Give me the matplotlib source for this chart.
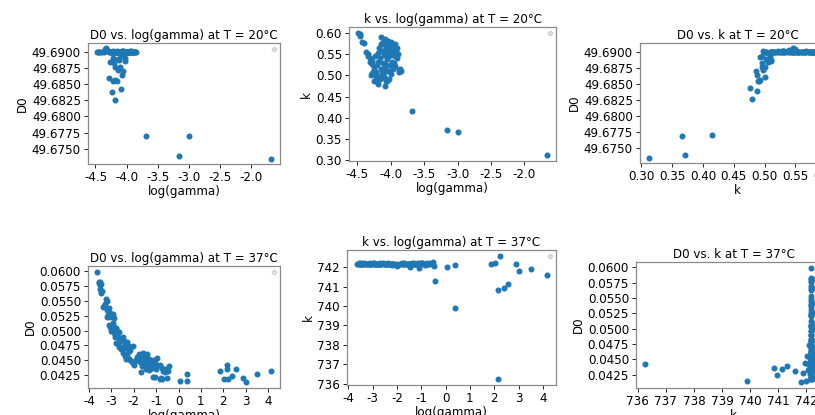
import warnings
import matplotlib
matplotlib.use("Agg")
import matplotlib.pyplot as plt
from matplotlib.ticker import MultipleLocator, FormatStrFormatter

warnings.filterwarnings("ignore")

# T = 20°C
lg20 = [-4.48, -4.46, -4.45, -4.42, -4.40, -4.36, -4.34, -4.33, -4.31, -4.30,
        -4.28, -4.27, -4.25, -4.24, -4.23, -4.21, -4.20, -4.19, -4.18, -4.17,
        -4.16, -4.15, -4.14, -4.13, -4.12, -4.11, -4.10, -4.09, -4.08, -4.07,
        -4.06, -4.05, -4.04, -4.03, -4.02, -4.01, -4.00, -3.99, -3.98, -3.97,
        -3.96, -3.95, -3.94, -3.93, -3.92, -3.91, -3.90, -3.89, -3.88, -3.87,
        -3.86, -3.85, -4.15, -4.05, -3.95, -4.22, -4.12, -4.08, -4.00, -3.93,
        -4.11, -4.06, -4.02, -3.98, -4.09, -4.04, -3.96,
        -4.27, -4.22, -4.20, -4.13, -4.12, -4.09, -4.02, -4.03, -4.18, -4.14,
        -4.11, -4.05, -4.07, -4.29, -4.22, -4.19, -4.16, -4.24, -4.09, -4.19,
        -3.68, -3.16, -3.00, -1.67]
d0_20 = [49.68990, 49.68990, 49.68995, 49.68998, 49.69000, 49.68998, 49.69040, 49.69050, 49.69020, 49.69005,
         49.69000, 49.69000, 49.68995, 49.68990, 49.69000, 49.68985, 49.68995, 49.69000, 49.68990, 49.69000,
         49.68995, 49.68990, 49.69000, 49.68995, 49.68990, 49.69000, 49.68995, 49.68990, 49.69000, 49.68995,
         49.69005, 49.68990, 49.69000, 49.68995, 49.68990, 49.69000, 49.68995, 49.68990, 49.69000, 49.68995,
         49.68990, 49.69000, 49.68995, 49.68990, 49.69000, 49.68995, 49.68990, 49.69000, 49.68995, 49.68990,
         49.68995, 49.68990, 49.69005, 49.69005, 49.69005, 49.69005, 49.69000, 49.69005, 49.69000, 49.69005,
         49.69000, 49.68995, 49.69000, 49.68995, 49.69000, 49.68995, 49.69000,
         49.68845, 49.68910, 49.68830, 49.68890, 49.68870, 49.68940, 49.68910, 49.68860, 49.68760, 49.68720,
         49.68760, 49.68700, 49.68640, 49.68600, 49.68550, 49.68560, 49.68550, 49.68380, 49.68430, 49.68255,
         49.67700, 49.67390, 49.67690, 49.67350]
k20 = [0.600, 0.597, 0.593, 0.578, 0.577, 0.556, 0.550, 0.546, 0.540, 0.532,
       0.535, 0.528, 0.512, 0.520, 0.545, 0.505, 0.525, 0.552, 0.532, 0.565,
       0.540, 0.515, 0.575, 0.558, 0.530, 0.580, 0.548, 0.520, 0.585, 0.570,
       0.538, 0.510, 0.582, 0.562, 0.545, 0.525, 0.578, 0.555, 0.532, 0.572,
       0.515, 0.560, 0.545, 0.575, 0.555, 0.540, 0.565, 0.550, 0.512, 0.508,
       0.515, 0.510, 0.590, 0.568, 0.530, 0.498, 0.502, 0.528, 0.503, 0.522,
       0.575, 0.578, 0.572, 0.566, 0.560, 0.552, 0.548,
       0.505, 0.508, 0.496, 0.503, 0.510, 0.495, 0.492, 0.511, 0.495, 0.497,
       0.500, 0.486, 0.487, 0.500, 0.490, 0.492, 0.491, 0.487, 0.476, 0.479,
       0.415, 0.371, 0.366, 0.312]

# T = 37°C
lg37 = [-3.66, -3.58, -3.55, -3.50, -3.47, -3.52, -3.50, -3.49, -3.45, -3.42,
        -3.25, -3.22, -3.40, -3.35, -3.30, -3.20, -3.10, -3.05, -2.95, -2.90,
        -3.20, -3.08, -3.15, -3.12, -3.05, -2.95, -2.88, -2.82, -2.78, -3.00,
        -2.88, -2.85, -2.70, -2.68, -2.78, -2.68, -2.62, -2.50, -2.42, -2.72,
        -2.65, -2.58, -2.50, -2.40, -2.30, -2.20, -2.50, -2.38, -2.30, -2.22,
        -2.15, -2.02, -2.35, -2.20, -2.12, -2.05, -2.00, -1.92, -1.85, -1.78,
        -1.70, -1.60, -1.55, -1.45, -1.40, -1.80, -1.72, -1.65, -1.55, -1.50,
        -1.38, -1.30, -1.25, -1.20, -1.15, -1.10, -1.05, -0.98, -1.45, -1.35,
        -1.30, -1.20, -1.00, -0.95, -1.70, -1.12, -1.05, -0.85, -0.72, -0.78,
        -0.50, -0.85, -0.75, -0.70, -0.62, -0.55, -0.48, -2.22, -2.40,
        -0.42, 0.05, 0.40, 0.40, 1.85, 2.05, 2.15, 2.15, 2.22, 2.40,
        2.55, 2.90, 3.02, 3.50, 4.15]
d0_37 = [0.0599, 0.0582, 0.0580, 0.0581, 0.0578, 0.0576, 0.0570, 0.0566, 0.0563, 0.0566,
         0.0553, 0.0549, 0.0540, 0.0542, 0.0545, 0.0535, 0.0538, 0.0530, 0.0527, 0.0521,
         0.0522, 0.0522, 0.0526, 0.0510, 0.0506, 0.0512, 0.0506, 0.0505, 0.0503, 0.0500,
         0.0496, 0.0489, 0.0490, 0.0497, 0.0480, 0.0481, 0.0484, 0.0489, 0.0482, 0.0478,
         0.0472, 0.0469, 0.0473, 0.0475, 0.0481, 0.0474, 0.0463, 0.0458, 0.0461, 0.0465,
         0.0468, 0.0474, 0.0453, 0.0452, 0.0449, 0.0446, 0.0443, 0.0451, 0.0455, 0.0460,
         0.0456, 0.0462, 0.0458, 0.0455, 0.0460, 0.0450, 0.0447, 0.0440, 0.0443, 0.0449,
         0.0445, 0.0453, 0.0449, 0.0446, 0.0450, 0.0444, 0.0448, 0.0454, 0.0436, 0.0440,
         0.0434, 0.0438, 0.0436, 0.0441, 0.0430, 0.0422, 0.0422, 0.0419, 0.0418, 0.0420,
         0.0420, 0.0442, 0.0437, 0.0433, 0.0430, 0.0436, 0.0433, 0.0453, 0.0470,
         0.0440, 0.0415, 0.0427, 0.0415, 0.0433, 0.0419, 0.0442, 0.0436, 0.0418, 0.0424,
         0.0435, 0.0420, 0.0413, 0.0428, 0.0432]
k37 = [742.18, 742.19, 742.20, 742.18, 742.17, 742.19, 742.18, 742.20, 742.19, 742.18,
       742.17, 742.19, 742.18, 742.20, 742.19, 742.18, 742.17, 742.19, 742.20, 742.18,
       742.19, 742.18, 742.17, 742.20, 742.19, 742.18, 742.17, 742.19, 742.18, 742.20,
       742.19, 742.18, 742.17, 742.19, 742.18, 742.20, 742.19, 742.18, 742.17, 742.19,
       742.18, 742.20, 742.19, 742.18, 742.17, 742.19, 742.18, 742.20, 742.16, 742.18,
       742.17, 742.10, 742.19, 742.12, 742.18, 742.15, 742.08, 742.19, 742.18, 742.20,
       742.17, 742.19, 742.18, 742.02, 742.19, 742.18, 742.20, 742.17, 742.19, 742.18,
       742.20, 742.16, 742.19, 742.18, 742.21, 741.95, 742.18, 742.22, 742.17, 742.19,
       742.20, 742.18, 742.15, 742.24, 742.19, 742.17, 742.20, 742.12, 742.19, 742.16,
       742.27, 742.18, 742.21, 742.15, 742.20, 742.18, 742.05, 742.19, 742.18,
       741.30, 742.00, 742.12, 739.88, 742.17, 742.22, 736.25, 740.85, 742.57, 740.95,
       741.15, 742.17, 741.80, 741.90, 741.60]

W, H = 815, 415
fs = 8.6
plt.rcParams['font.size'] = fs

fig = plt.figure(figsize=(W / 100, H / 100), dpi=100)


def px_axes(left, top, right, bottom):
    return fig.add_axes([left / W, 1 - bottom / H, (right - left) / W, (bottom - top) / H])


# rect, x, y, labels, title, x step, x format, y step, y format
panels = [
    ((88, 43, 280, 164), lg20, d0_20, "log(gamma)", "D0", "D0 vs. log(gamma) at T = 20°C",
     0.5, "%.1f", 0.0025, "%.4f"),
    ((349, 27, 556, 161), lg20, k20, "log(gamma)", "k", "k vs. log(gamma) at T = 20°C",
     0.5, "%.1f", 0.05, "%.2f"),
    ((640, 43, 835, 163), k20, d0_20, "k", "D0", "D0 vs. k at T = 20°C",
     0.05, "%.2f", 0.0025, "%.4f"),
    ((88, 266, 280, 388), lg37, d0_37, "log(gamma)", "D0", "D0 vs. log(gamma) at T = 37°C",
     1, "%d", 0.0025, "%.4f"),
    ((347, 250, 556, 385), lg37, k37, "log(gamma)", "k", "k vs. log(gamma) at T = 37°C",
     1, "%d", 1, "%d"),
    ((636, 262, 831, 388), k37, d0_37, "k", "D0", "D0 vs. k at T = 37°C",
     1, "%d", 0.0025, "%.4f"),
]

for rect, x, y, xl, yl, title, xs, xf, ys, yf in panels:
    ax = px_axes(*rect)
    ax.scatter(x, y, s=11, color="#1f77b4")
    ax.set_xlabel(xl, fontsize=fs, labelpad=1)
    ax.set_ylabel(yl, fontsize=fs, labelpad=2)
    ax.set_title(title, fontsize=fs, pad=3)
    ax.xaxis.set_major_locator(MultipleLocator(xs))
    ax.yaxis.set_major_locator(MultipleLocator(ys))
    ax.xaxis.set_major_formatter(FormatStrFormatter(xf.replace("%d", "%.0f")))
    ax.yaxis.set_major_formatter(FormatStrFormatter(yf.replace("%d", "%.0f")))
    ax.tick_params(labelsize=fs, pad=2, width=0.6, length=3)
    for sp in ax.spines.values():
        sp.set_color("#8a8a8a")
        sp.set_linewidth(0.9)
    ax.legend(loc="upper right", borderpad=0.15, borderaxespad=0.35)

fig.savefig("out.png", dpi=100)
